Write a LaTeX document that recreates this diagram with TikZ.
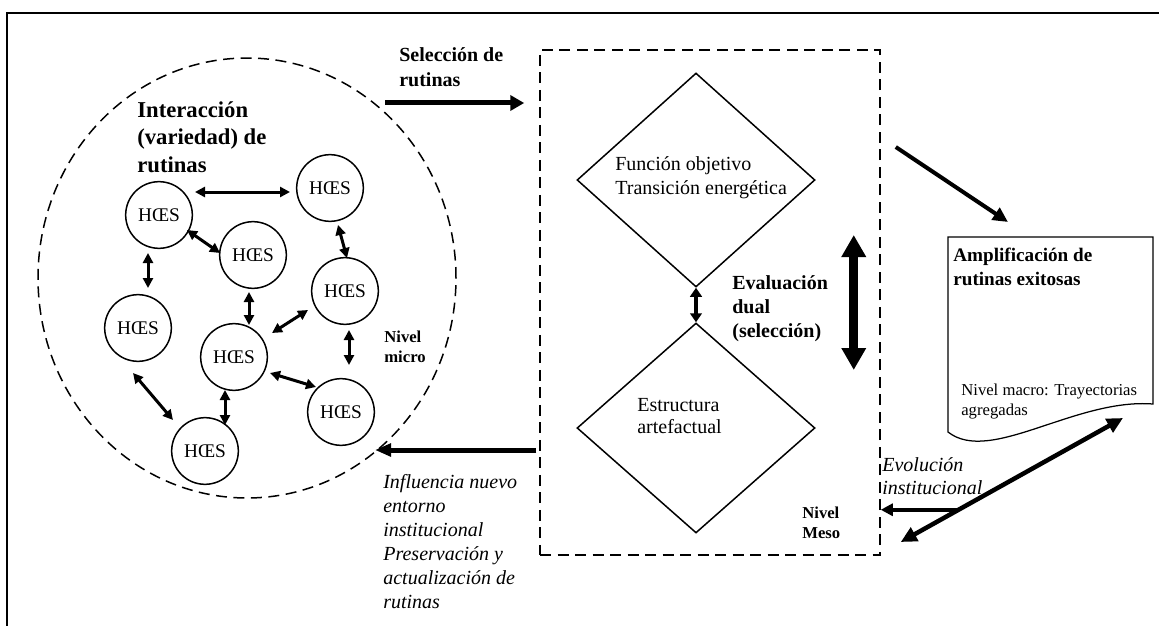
\documentclass[tikz,border=0pt]{standalone}
\usepackage{fontspec}
\setmainfont{Liberation Serif}
\usetikzlibrary{arrows.meta,calc,shapes.geometric}
\begin{document}
\begin{tikzpicture}[x=0.6pt,y=-0.6pt,
  hces/.style={draw,circle,line width=0.9pt,minimum size=40pt,inner sep=0pt,
    font=\fontsize{11.6}{13}\selectfont},
  link/.style={line width=1.8pt,
    {Triangle[length=6pt,width=6pt]}-{Triangle[length=6pt,width=6pt]}},
  dashline/.style={line width=0.9pt,dash pattern=on 6.6pt off 3.9pt},
  txt/.style={anchor=north west,inner sep=0pt,align=left},
  lab/.style={txt,font=\fontsize{12}{14.4}\selectfont},
  blab/.style={txt,font=\fontsize{12}{14.4}\selectfont\bfseries},
  ilab/.style={txt,font=\fontsize{12}{14.4}\selectfont\itshape},
  small/.style={txt,font=\fontsize{10}{12}\selectfont},
  bsmall/.style={txt,font=\fontsize{10}{12}\selectfont\bfseries},
  shape line/.style={line width=0.9pt}
]
\useasboundingbox (0,0) rectangle (1159,626);

% frame
\draw[line width=1.2pt] (7,626) -- (7,13) -- (1159,13);

% micro level: dashed ellipse with the HOES nodes
\node[draw,ellipse,dashline,minimum width=250.8pt,minimum height=264pt,inner sep=0pt] (micro) at (247,278) {};
\node[txt,font=\fontsize{13.6}{16.5}\selectfont\bfseries] (title) at (137,101) {Interacción\\(variedad) de\\rutinas};

\node[hces] (A) at (159,215) {HŒS};
\node[hces] (B) at (330,188) {HŒS};
\node[hces] (C) at (253,255) {HŒS};
\node[hces] (D) at (345,291) {HŒS};
\node[hces] (E) at (138,328) {HŒS};
\node[hces] (F) at (234,357) {HŒS};
\node[hces] (G) at (341,412) {HŒS};
\node[hces] (H) at (205,451) {HŒS};

\draw[link] ($(A)+(36,-23)$) -- ($(B)+(-40,4)$);
\draw[link] ($(A)+(28,15)$) -- ($(C)+(-33,-2)$);
\draw[link] ($(A)+(-11,38)$) -- ($(E)+(10,-40)$);
\draw[link] ($(B)+(8,37)$) -- ($(D)+(2,-33)$);
\draw[link] ($(C)+(-4,37)$) -- ($(F)+(15,-32)$);
\draw[link] ($(F)+(38,-24)$) -- ($(D)+(-37,19)$);
\draw[link] ($(F)+(36,16)$) -- ($(G)+(-25,-25)$);
\draw[link] ($(D)+(4,39)$) -- ($(G)+(8,-47)$);
\draw[link] ($(E)+(-5,45)$) -- ($(H)+(-32,-31)$);
\draw[link] ($(F)+(-9,33)$) -- ($(H)+(20,-26)$);

\node[bsmall] (nmicro) at (384,331) {Nivel\\micro};

% meso level: dashed frame with the two diamonds
\node[draw,dashline,minimum width=204pt,minimum height=303pt,inner sep=0pt] (meso) at (710,302.5) {};
\node[draw,diamond,shape line,minimum width=142.8pt,minimum height=128.4pt,inner sep=0pt] (fobj) at (696,180) {};
\node[draw,diamond,shape line,minimum width=142.8pt,minimum height=126pt,inner sep=0pt] (estr) at (696,428) {};
\node[lab] (fobjtxt) at (615,156) {Función objetivo\\Transición energética};
\node[txt,font=\fontsize{12}{13.2}\selectfont] (estrtxt) at (637,398) {Estructura\\artefactual};
\draw[line width=2.4pt,{Triangle[length=5.4pt,width=7pt]}-{Triangle[length=5.4pt,width=7pt]}]
  (fobj.south) -- (estr.north);
\node[blab] (eval) at (732,275) {Evaluación\\dual\\(selección)};
\draw[line width=5.4pt,{Triangle[length=13.2pt,width=14pt]}-{Triangle[length=13.2pt,width=14pt]}]
  ($(meso.east)+(-27,-67.5)$) -- ($(meso.east)+(-27,67.5)$);
\node[bsmall] (nmeso) at (802,507) {Nivel\\Meso};

% selection of routines
\node[blab,font=\fontsize{12}{15}\selectfont\bfseries] (sel) at (399,47) {Selección de\\rutinas};
\draw[line width=3pt,-{Triangle[length=8.4pt,width=9pt]}]
  ($(micro)+(138,-175)$) -- ($(meso.west)+(-15,-199.5)$);

% influence back on the micro level
\draw[line width=3pt,-{Triangle[length=9.6pt,width=7.5pt]}]
  ($(meso.west)+(-3,147.5)$) -- ($(micro)+(128,172)$);
\node[ilab] (infl) at (383,474) {Influencia nuevo\\entorno\\institucional\\Preservación y\\actualización de\\rutinas};

% macro level: document shape
\draw[line width=0.75pt] (948,432) -- (948,237) -- (1153,237) -- (1153,404)
  .. controls (1075,398) and (990,465) .. cycle;
\coordinate (docN) at (1050,237);
\coordinate (docS) at (1050,432);
\node[txt,font=\fontsize{11.5}{14.4}\selectfont\bfseries] (ampl) at (953,248) {Amplificación de\\rutinas exitosas};
\node[small] (macro) at (961,384) {Nivel macro: Trayectorias\\agregadas};
\draw[line width=2.4pt,-{Triangle[length=9pt,width=8.4pt]}]
  ($(meso.east)+(15,-155.5)$) -- ($(docN)+(-42,-15)$);

% institutional evolution
\draw[line width=2.7pt,{Triangle[length=9.6pt,width=9pt]}-{Triangle[length=9.6pt,width=9pt]}]
  ($(meso.east)+(20,239.5)$) -- coordinate[pos=0.26] (evo) ($(docS)+(73,-14)$);
\draw[line width=2.4pt,-{Triangle[length=7.2pt,width=7.2pt]}] (evo) -- (evo -| meso.east);
\node[ilab,font=\fontsize{12}{13.8}\selectfont\itshape] (evol) at (882,457) {Evolución\\institucional};
\end{tikzpicture}
\end{document}
